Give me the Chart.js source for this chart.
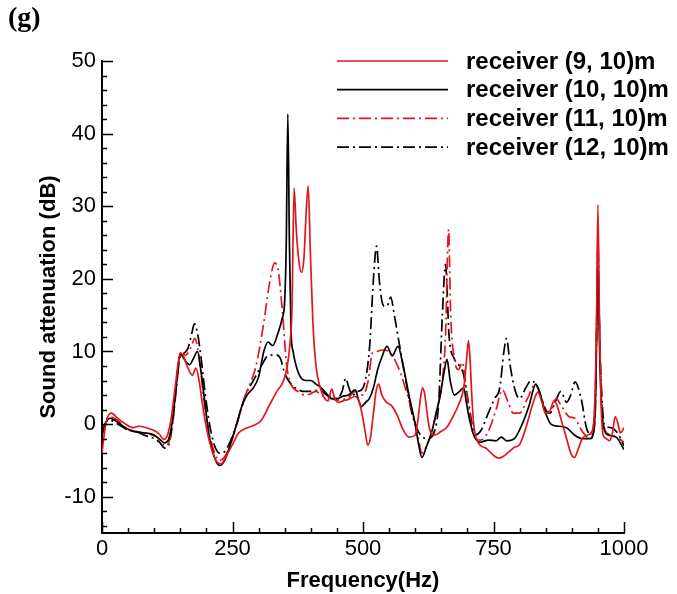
<!DOCTYPE html>
<html>
<head>
<meta charset="utf-8">
<script src="https://cdn.jsdelivr.net/npm/chart.js@4.4.1/dist/chart.umd.min.js"></script>
<style>
html,body{margin:0;padding:0;background:#fff;}
#wrap{position:relative;width:677px;height:594px;}
canvas{display:block;}
</style>
</head>
<body>
<div id="wrap"><canvas id="c" width="677" height="594"></canvas></div>
<script>
// ---- data ----
const seriesNames = ["receiver (9, 10)m", "receiver (10, 10)m", "receiver (11, 10)m", "receiver (12, 10)m"];

const f9 = [0,5,10,18,30,45,60,70,85,100,110,118,125,132,140,150,157,163,168,173,180,186,192,200,210,220,228,238,250,262,275,290,305,320,335,348,355,360,364,368,372,377,382,387,391,395,399,404,410,418,426,433,440,446,453,462,472,485,492,498,504,509,514,520,525,530,536,545,555,565,577,588,600,606,610,614,618,622,627,637,650,660,672,685,693,698,702,705,708,712,720,735,750,760,770,780,790,800,810,820,830,835,842,850,858,866,872,880,890,898,905,912,920,930,940,944,947,950,953,956,960,966,972,978,983,988,993,1000];
const v9 = [-4,-1,0.8,1.5,0.8,0,-0.5,-0.3,-0.5,-0.9,-1.4,-2.1,-1.6,0.5,5,9.8,9.2,8,7.2,6.7,7.7,6,3,-0.5,-3.5,-5.2,-5.5,-4.4,-2.8,-1.2,-0.6,-0.2,0.5,2.5,4.5,6,8,11,16,32.5,27,22.5,20.9,23,29,32.8,24,14,8,5,3.6,3.2,4.8,3.5,3,3.2,3.4,3.8,3.2,1.5,-1,-2.9,-2,1.5,4.5,5.5,4,3,2.5,1.3,-0.8,-1.8,-1.5,1,3.5,5,4.2,2,-0.5,-1.5,-1,-0.5,1,3,5,8.5,11.5,9,4.5,0,-2.5,-3.3,-4.3,-4.7,-4.4,-3.8,-3.2,-2.8,-1,1.5,3.8,4.4,3.2,1.5,1.8,3.2,2.5,0.5,-2,-4,-4.6,-3.5,-2,-1.5,-0.8,3,12,30.2,14,3,-1.5,-2,-2.3,-1.2,1,0.2,-1.2,-0.5];

const f10 = [0,8,15,25,35,45,60,80,100,112,120,128,135,142,150,157,163,168,175,183,190,197,205,215,225,235,245,258,268,278,290,300,310,318,327,337,345,350,353,356,359,362,366,372,380,390,400,410,420,430,440,450,460,472,485,492,497,505,512,520,528,535,546,556,567,577,588,600,607,613,622,632,640,648,655,661,667,675,685,693,698,703,712,725,740,755,765,775,790,805,818,831,840,850,860,875,890,905,920,935,942,946,950,954,960,970,985,1000];
const v10 = [-1.5,0.3,0.8,0.5,0,-0.5,-1,-1.2,-1.5,-2.2,-2.6,-2,0.5,5,9.7,9,8.4,8.2,9,10,7,3,-1.5,-4.5,-5.7,-5,-3,0,2.5,4,5,6.5,10,11.3,10.8,12.5,14.5,17,25,42.7,25,13,10,8,6.5,6,6,5.5,5,4.2,3.5,3.5,3.8,4,4.7,3.2,2.4,3,3.5,5,7.5,9,10.7,9.4,10.7,8,4,0,-3,-4.6,-3,-1,1.5,4,7,8.9,6,4,4.5,5,3,1,-1.5,-2.5,-2.2,-2.3,-1.8,-2.3,-2,0,2.5,5.5,4,1.5,0,-0.3,-0.5,-1.5,-2,-2,-1,5,22.5,8,0,-1.5,-1.8,-3.5];

const f11 = [0,8,15,30,50,65,80,95,105,113,120,128,135,142,150,160,170,178,188,196,205,215,225,235,245,258,275,295,310,320,331,338,345,354,362,375,390,400,410,420,430,440,450,460,470,485,500,510,518,527,535,550,560,572,585,597,606,613,622,632,642,652,658,664,668,675,683,690,700,712,725,740,755,767,778,788,800,815,830,840,850,860,870,880,895,905,920,935,942,946,950,954,960,975,990,1000];
const v11 = [-1.5,0.5,1,0.5,-0.8,-1,-1.2,-1.5,-1.8,-2.3,-3,-2.5,0,4.5,9.5,9.5,10.5,11.8,8,3,-1,-3.8,-5,-4.5,-3,0,4,8,14,19,22.2,21,16,8,5.5,4.5,4,4.2,4.5,4,3.8,3.5,3.3,3.4,3.5,4.5,4,6,9.8,10,10.2,10,9,7,4,1,-2,-4,-3,-1,2,6,12,26.8,15,9,7.5,8.5,3.5,-1.5,-2.2,-1,2,4.7,3,1.5,1.5,3.5,5.5,4,1.5,2,3.5,2.5,1,0.8,-1,-2,-1,4,25,10,0,-1.5,-2,-2.5];

const f12 = [0,8,15,30,50,65,80,100,110,120,128,135,142,150,158,165,172,177,183,190,198,206,215,225,235,245,258,275,290,305,320,335,342,350,362,375,385,400,418,430,450,460,467,473,480,490,500,507,513,520,526,531,536,542,548,553,560,572,582,592,600,610,625,637,645,652,658,665,675,685,692,702,715,725,740,752,762,770,775,782,792,800,812,822,835,850,858,868,879,890,898,906,918,928,938,945,950,955,962,975,990,1000];
const v12 = [-1,0.3,0.5,0,-0.8,-1,-1.5,-2,-2.5,-3.3,-2.8,0,5,9.3,9.8,10.5,12.5,13.8,12.5,9,4,0,-2.8,-4,-3.8,-2.5,0,4,6,8,9.5,9.5,9,7,5.5,4.8,4.5,4.5,4.7,4,3.5,4.5,6.3,5,4,4.5,5,7,11,20,24.5,20,17,16.2,16.5,17.5,15,10,6,2,0,-1.5,-2,-1,3,15,22,12,9,8,7,3,-1.5,-1,1.5,3.5,5,10,11.8,8,4.5,3.5,5,6,5,2,1.5,3,4.5,3,4,5.8,3.5,-0.5,-1.5,4,19,8,0,-0.5,-1.5,-3];

const xTickLabels = [0, 250, 500, 750, 1000];
const yTickLabels = [-10, 0, 10, 20, 30, 40, 50];
const xMinorStep = 50;
const yMinorStep = 2;

// ---- chart ----
const RED = '#e3161d';
const FONT = '"Liberation Sans", Arial, Helvetica, sans-serif';
Chart.defaults.font.family = FONT;
Chart.defaults.color = '#000';

function pts(f, v) { return f.map((x, i) => ({ x: x, y: v[i] })); }

const datasets = [
  { label: seriesNames[0], data: pts(f9, v9), borderColor: RED, borderWidth: 1.7, borderDash: [] },
  { label: seriesNames[1], data: pts(f10, v10), borderColor: '#000', borderWidth: 1.7, borderDash: [] },
  { label: seriesNames[2], data: pts(f11, v11), borderColor: RED, borderWidth: 1.7, borderDash: [12, 4, 2, 4] },
  { label: seriesNames[3], data: pts(f12, v12), borderColor: '#000', borderWidth: 1.7, borderDash: [12, 4, 2, 4] }
].map(d => Object.assign(d, { pointRadius: 0, fill: false, cubicInterpolationMode: 'monotone' }));

const decor = {
  id: 'decor',
  afterDraw(chart) {
    const ctx = chart.ctx;
    const xs = chart.scales.x, ys = chart.scales.y;
    const ca = chart.chartArea;
    ctx.save();
    ctx.strokeStyle = '#000';
    ctx.lineWidth = 1.5;
    ctx.setLineDash([]);
    ctx.beginPath();
    for (let v = xs.min; v <= xs.max + 1e-9; v += xMinorStep) {
      const px = Math.round(xs.getPixelForValue(v)) + 0.5;
      const len = xTickLabels.includes(v) ? 11 : 5;
      ctx.moveTo(px, ca.bottom);
      ctx.lineTo(px, ca.bottom - len);
    }
    for (let v = -14; v <= ys.max + 1e-9; v += yMinorStep) {
      const py = Math.round(ys.getPixelForValue(v)) + 0.5;
      const len = yTickLabels.includes(v) ? 11 : 5;
      ctx.moveTo(ca.left, py);
      ctx.lineTo(ca.left + len, py);
    }
    ctx.stroke();

    // legend
    chart.data.datasets.forEach((ds, i) => {
      const y = 61 + i * 28.7;
      ctx.save();
      ctx.strokeStyle = ds.borderColor;
      ctx.lineWidth = ds.borderWidth;
      ctx.setLineDash(ds.borderDash || []);
      ctx.beginPath();
      ctx.moveTo(337, y);
      ctx.lineTo(448, y);
      ctx.stroke();
      ctx.restore();
      ctx.fillStyle = '#000';
      ctx.font = 'bold 24px ' + FONT;
      ctx.textBaseline = 'middle';
      ctx.textAlign = 'left';
      ctx.fillText(ds.label, 466, y + 1);
    });

    // panel label
    ctx.fillStyle = '#000';
    ctx.font = 'bold 28px "Liberation Serif", "Times New Roman", serif';
    ctx.textBaseline = 'alphabetic';
    ctx.textAlign = 'left';
    ctx.fillText('(g)', 8, 26);
    ctx.restore();
  }
};

new Chart(document.getElementById('c'), {
  type: 'line',
  data: { datasets },
  plugins: [decor],
  options: {
    responsive: false,
    animation: false,
    devicePixelRatio: 1,
    layout: { padding: { top: 61, right: 53, left: 0, bottom: 0 } },
    plugins: { legend: { display: false }, tooltip: { enabled: false } },
    scales: {
      x: {
        type: 'linear',
        min: 0, max: 1000,
        afterBuildTicks: s => { s.ticks = xTickLabels.map(v => ({ value: v })); },
        afterFit: s => { s.height = 61; },
        ticks: { font: { size: 22 }, color: '#000', padding: 3, maxRotation: 0, autoSkip: false, callback: v => String(v) },
        grid: { display: false, drawTicks: false },
        border: { display: true, color: '#000', width: 2 },
        title: { display: true, text: 'Frequency(Hz)', font: { size: 22, weight: 'bold' }, color: '#000', padding: { top: 0, bottom: 0 } }
      },
      y: {
        type: 'linear',
        min: -15, max: 50,
        afterBuildTicks: s => { s.ticks = yTickLabels.map(v => ({ value: v })); },
        afterFit: s => { s.width = 102; },
        ticks: { font: { size: 22 }, color: '#000', padding: 6, autoSkip: false, callback: v => String(v) },
        grid: { display: false, drawTicks: false },
        border: { display: true, color: '#000', width: 2 },
        title: { display: true, text: 'Sound attenuation (dB)', font: { size: 22, weight: 'bold' }, color: '#000', padding: { top: 36, bottom: 0 } }
      }
    }
  }
});
</script>
</body>
</html>
